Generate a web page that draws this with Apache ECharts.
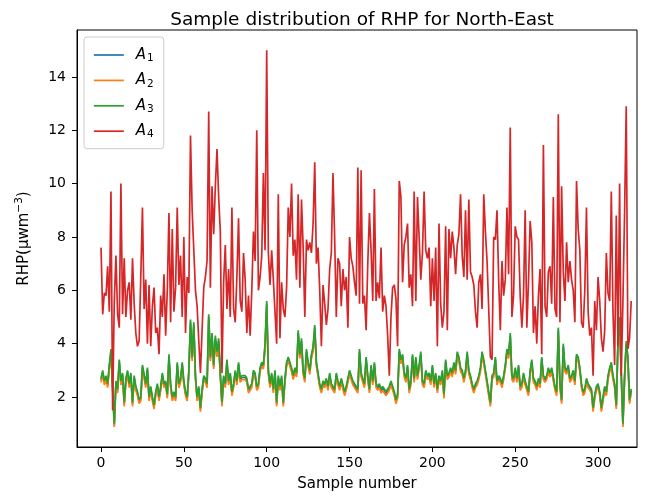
<!DOCTYPE html>
<html><head><meta charset="utf-8">
<script src="https://cdn.jsdelivr.net/npm/echarts@6/dist/echarts.min.js"></script>
<style>html,body{margin:0;padding:0;background:#fff}#c{width:650px;height:499px}</style>
</head><body><div id="c"></div>
<script>
const titleText = "Sample distribution of RHP for North-East";
const xTicks = [0,50,100,150,200,250,300];
const yTicks = [2,4,6,8,10,12,14];
const seriesNames = ["1","2","3","4"];

const A1 = [2.63,2.93,2.53,2.73,2.43,3.13,3.72,2.33,0.94,2.53,
2.23,3.33,2.53,2.83,1.73,2.63,2.93,2.43,2.83,1.73,
2.73,2.33,2.13,1.83,1.93,3.13,3.13,2.43,3.03,1.93,
2.33,1.93,1.63,2.13,2.43,1.93,2.33,2.83,2.43,2.53,
2.03,3.5,2.43,1.93,2.13,1.93,3.23,2.43,2.63,3.23,
2.53,2.13,1.93,2.93,4.8,3.43,4.7,2.73,1.93,2.33,
1.53,2.23,2.73,2.63,2.43,5.0,3.43,4.3,3.13,4.2,
3.6,4.1,2.83,1.73,2.73,2.43,3.33,2.53,2.83,2.13,
2.43,2.93,2.53,3.23,2.63,2.73,2.73,2.73,2.63,2.23,
2.23,2.43,2.93,2.83,2.33,2.43,3.03,3.23,3.13,3.9,
5.48,2.93,2.43,2.83,2.23,2.93,1.73,2.73,2.33,2.73,
1.73,2.63,3.23,3.43,3.23,3.03,2.73,3.03,2.83,4.4,
3.53,4.1,2.93,2.63,3.7,3.23,2.93,3.53,3.8,4.6,
3.23,2.83,2.43,2.23,2.53,2.43,2.63,2.33,2.83,2.43,
2.43,2.23,2.83,2.53,2.33,2.63,2.63,2.13,2.33,2.63,
2.93,2.73,2.53,2.43,2.43,2.23,3.7,2.83,2.83,2.43,
3.43,2.73,2.23,3.13,2.53,3.23,2.43,2.33,2.43,2.23,
2.33,2.23,2.13,2.23,2.33,2.53,2.33,2.13,1.83,2.03,
3.7,3.33,3.53,2.83,2.63,3.13,2.23,2.53,3.53,2.63,
3.43,2.73,3.13,3.6,2.53,2.43,2.93,2.73,2.83,2.53,
3.13,2.43,2.83,2.23,2.73,2.53,2.93,2.03,3.33,2.73,
2.83,3.03,2.83,3.23,2.93,3.6,3.43,3.03,2.93,2.63,
2.93,3.6,2.93,2.73,2.43,2.23,2.43,2.53,2.73,3.03,
3.6,3.33,2.93,2.53,2.13,1.73,2.73,2.83,3.43,2.53,
2.73,2.63,2.43,2.73,3.13,3.7,3.53,4.3,2.73,2.63,
3.03,2.63,3.13,2.33,2.43,2.83,2.53,2.33,2.13,2.93,
3.33,2.63,2.53,2.33,2.63,2.43,3.43,2.73,2.63,2.73,
3.03,2.83,3.03,3.03,2.33,2.13,4.5,2.43,1.83,3.9,
3.03,2.93,3.13,2.63,2.73,2.93,2.53,3.53,3.43,3.03,
2.43,2.13,2.23,2.63,2.43,2.33,2.23,1.53,2.03,2.33,
2.43,2.13,1.53,1.93,2.33,2.13,2.73,3.03,3.23,2.73,
2.43,1.63,4.0,4.9,2.83,0.94,2.73,4.0,3.43,1.83,2.23];

const A2 = [2.55,2.85,2.45,2.65,2.35,3.05,3.6,2.25,0.88,2.45,
2.15,3.25,2.45,2.75,1.65,2.55,2.85,2.35,2.75,1.65,
2.65,2.25,2.05,1.75,1.85,3.05,3.05,2.35,2.95,1.85,
2.25,1.85,1.55,2.05,2.35,1.85,2.25,2.75,2.35,2.45,
1.95,3.4,2.35,1.85,2.05,1.85,3.15,2.35,2.55,3.15,
2.45,2.05,1.85,2.85,4.7,3.35,4.6,2.65,1.85,2.25,
1.45,2.15,2.65,2.55,2.35,4.9,3.35,4.2,3.05,4.1,
3.5,4.0,2.75,1.65,2.65,2.35,3.25,2.45,2.75,2.05,
2.35,2.85,2.45,3.15,2.55,2.65,2.65,2.65,2.55,2.15,
2.15,2.35,2.85,2.75,2.25,2.35,2.95,3.15,3.05,3.8,
5.35,2.85,2.35,2.75,2.15,2.85,1.65,2.65,2.25,2.65,
1.65,2.55,3.15,3.35,3.15,2.95,2.65,2.95,2.75,4.3,
3.45,4.0,2.85,2.55,3.6,3.15,2.85,3.45,3.7,4.5,
3.15,2.75,2.35,2.15,2.45,2.35,2.55,2.25,2.75,2.35,
2.35,2.15,2.75,2.45,2.25,2.55,2.55,2.05,2.25,2.55,
2.85,2.65,2.45,2.35,2.35,2.15,3.6,2.75,2.75,2.35,
3.35,2.65,2.15,3.05,2.45,3.15,2.35,2.25,2.35,2.15,
2.25,2.15,2.05,2.15,2.25,2.45,2.25,2.05,1.75,1.95,
3.6,3.25,3.45,2.75,2.55,3.05,2.15,2.45,3.45,2.55,
3.35,2.65,3.05,3.5,2.45,2.35,2.85,2.65,2.75,2.45,
3.05,2.35,2.75,2.15,2.65,2.45,2.85,1.95,3.25,2.65,
2.75,2.95,2.75,3.15,2.85,3.5,3.35,2.95,2.85,2.55,
2.85,3.5,2.85,2.65,2.35,2.15,2.35,2.45,2.65,2.95,
3.5,3.25,2.85,2.45,2.05,1.65,2.65,2.75,3.35,2.45,
2.65,2.55,2.35,2.65,3.05,3.6,3.45,4.2,2.65,2.55,
2.95,2.55,3.05,2.25,2.35,2.75,2.45,2.25,2.05,2.85,
3.25,2.55,2.45,2.25,2.55,2.35,3.35,2.65,2.55,2.65,
2.95,2.75,2.95,2.95,2.25,2.05,4.4,2.35,1.75,3.8,
2.95,2.85,3.05,2.55,2.65,2.85,2.45,3.45,3.35,2.95,
2.35,2.05,2.15,2.55,2.35,2.25,2.15,1.45,1.95,2.25,
2.35,2.05,1.45,1.85,2.25,2.05,2.65,2.95,3.15,2.65,
2.35,1.55,3.9,4.8,2.75,0.88,2.65,3.9,3.35,1.75,2.15];

const A3 = [2.7,3.0,2.6,2.8,2.5,3.2,3.8,2.4,1.0,2.6,
2.3,3.4,2.6,2.9,1.8,2.7,3.0,2.5,2.9,1.8,
2.8,2.4,2.2,1.9,2.0,3.2,3.2,2.5,3.1,2.0,
2.4,2.0,1.7,2.2,2.5,2.0,2.4,2.9,2.5,2.6,
2.1,3.6,2.5,2.0,2.2,2.0,3.3,2.5,2.7,3.3,
2.6,2.2,2.0,3.0,4.9,3.5,4.8,2.8,2.0,2.4,
1.6,2.3,2.8,2.7,2.5,5.1,3.5,4.4,3.2,4.3,
3.7,4.2,2.9,1.8,2.8,2.5,3.4,2.6,2.9,2.2,
2.5,3.0,2.6,3.3,2.7,2.8,2.8,2.8,2.7,2.3,
2.3,2.5,3.0,2.9,2.4,2.5,3.1,3.3,3.2,4.0,
5.6,3.0,2.5,2.9,2.3,3.0,1.8,2.8,2.4,2.8,
1.8,2.7,3.3,3.5,3.3,3.1,2.8,3.1,2.9,4.5,
3.6,4.2,3.0,2.7,3.8,3.3,3.0,3.6,3.9,4.7,
3.3,2.9,2.5,2.3,2.6,2.5,2.7,2.4,2.9,2.5,
2.5,2.3,2.9,2.6,2.4,2.7,2.7,2.2,2.4,2.7,
3.0,2.8,2.6,2.5,2.5,2.3,3.8,2.9,2.9,2.5,
3.5,2.8,2.3,3.2,2.6,3.3,2.5,2.4,2.5,2.3,
2.4,2.3,2.2,2.3,2.4,2.6,2.4,2.2,1.9,2.1,
3.8,3.4,3.6,2.9,2.7,3.2,2.3,2.6,3.6,2.7,
3.5,2.8,3.2,3.7,2.6,2.5,3.0,2.8,2.9,2.6,
3.2,2.5,2.9,2.3,2.8,2.6,3.0,2.1,3.4,2.8,
2.9,3.1,2.9,3.3,3.0,3.7,3.5,3.1,3.0,2.7,
3.0,3.7,3.0,2.8,2.5,2.3,2.5,2.6,2.8,3.1,
3.7,3.4,3.0,2.6,2.2,1.8,2.8,2.9,3.5,2.6,
2.8,2.7,2.5,2.8,3.2,3.8,3.6,4.4,2.8,2.7,
3.1,2.7,3.2,2.4,2.5,2.9,2.6,2.4,2.2,3.0,
3.4,2.7,2.6,2.4,2.7,2.5,3.5,2.8,2.7,2.8,
3.1,2.9,3.1,3.1,2.4,2.2,4.6,2.5,1.9,4.0,
3.1,3.0,3.2,2.7,2.8,3.0,2.6,3.6,3.5,3.1,
2.5,2.2,2.3,2.7,2.5,2.4,2.3,1.6,2.1,2.4,
2.5,2.2,1.6,2.0,2.4,2.2,2.8,3.1,3.3,2.8,
2.5,1.7,4.1,5.0,2.9,1.0,2.8,4.1,3.5,1.9,2.3];

const A4 = [7.6,5.1,5.9,5.8,6.9,5.2,9.7,1.5,5.6,7.3,
5.1,4.6,10.0,5.1,7.2,5.0,6.0,6.3,4.9,7.2,
5.5,4.4,3.9,4.1,6.5,9.1,5.3,6.4,4.0,6.2,
3.9,5.4,6.1,4.4,4.6,3.6,5.8,5.0,6.6,4.3,
6.0,8.9,4.8,8.3,5.2,6.1,9.1,6.2,7.3,5.0,
8.0,4.4,6.5,5.9,11.8,9.0,9.0,6.0,5.4,4.1,
2.9,4.5,6.1,6.5,7.1,12.7,6.1,9.9,8.1,9.9,
11.3,9.5,8.2,2.9,6.3,7.7,5.3,6.8,5.0,9.1,
5.3,4.8,6.5,8.7,5.6,5.2,7.4,6.4,4.4,5.8,
4.3,6.0,8.2,7.1,12.0,6.0,6.5,7.3,10.4,7.5,
15.0,7.4,6.2,7.5,6.4,5.2,4.0,9.6,4.2,6.3,
5.3,5.0,6.1,9.1,8.0,10.0,7.3,7.9,6.4,9.6,
6.1,9.4,7.6,5.0,7.9,7.5,7.8,7.4,8.5,10.8,
7.0,7.6,6.0,3.9,6.2,5.5,4.7,5.3,6.8,7.4,
10.4,8.0,5.0,7.2,7.0,5.4,6.8,6.0,6.5,4.6,
8.0,7.2,6.9,6.3,5.8,10.6,5.5,10.5,5.5,5.8,
4.5,7.0,8.9,7.5,5.6,9.8,5.6,6.3,5.7,7.6,
5.2,5.8,5.4,4.3,2.8,5.0,6.1,6.2,5.7,3.9,
10.1,9.5,6.3,7.7,8.0,8.5,6.1,6.6,5.4,9.7,
5.6,9.5,8.0,6.4,7.4,9.7,7.5,7.2,7.6,5.4,
7.2,5.6,7.6,3.9,8.5,5.5,4.6,5.2,8.4,4.5,
8.3,7.2,8.2,7.6,6.6,7.7,8.1,9.6,7.3,6.5,
9.0,6.4,9.4,6.7,6.5,6.2,5.2,4.6,6.3,6.6,
5.3,9.6,8.2,7.1,5.3,3.5,3.4,8.0,7.9,9.0,
6.4,4.5,7.1,5.8,6.4,9.1,6.6,12.1,5.0,5.8,
8.4,8.0,7.9,5.8,4.6,5.8,9.0,4.6,6.3,8.6,
7.8,4.4,5.4,4.0,5.8,6.8,3.6,11.45,5.4,5.0,
6.7,6.9,5.5,9.5,5.3,5.0,12.6,4.8,9.9,6.7,
5.6,7.8,6.3,7.1,6.4,6.0,4.8,10.1,8.3,7.5,
4.8,4.6,6.0,9.1,5.2,4.3,4.6,2.8,5.6,4.5,
6.5,5.6,4.2,3.7,4.5,7.4,5.9,5.6,9.7,5.2,
3.2,8.8,3.9,10.0,2.8,5.6,8.9,12.9,3.8,4.2,5.6];

const allSeries = [A1, A2, A3, A4];
const colors = ['#1f77b4','#ff7f0e','#2ca02c','#d62728'];
const FONT = 'DejaVu Sans';

const chart = echarts.init(document.getElementById('c'), null, {renderer:'canvas'});
chart.setOption({
  animation: false,
  backgroundColor: '#fff',
  textStyle: {fontFamily: FONT, color: '#000'},
  title: {
    text: titleText, left: 357, top: 6, textAlign: 'center',
    textStyle: {fontFamily: FONT, fontSize: 18.5, fontWeight: 'normal', color: '#000'}
  },
  legend: {
    orient: 'vertical', left: 84, top: 37,
    itemWidth: 30, itemHeight: 14, itemGap: 8.9,
    padding: [10.5, 10, 8.5, 9],
    borderColor: '#cccccc', borderWidth: 1, borderRadius: 3,
    backgroundColor: 'rgba(255,255,255,0.8)',
    itemStyle: {opacity: 0},
    lineStyle: {width: 1.7},
    data: seriesNames.map(n => 'A' + n),
    formatter: name => '{i|A}{s|' + name.slice(1) + '}',
    textStyle: {
      fontFamily: FONT, color: '#000',
      rich: {
        i: {fontFamily: FONT, fontStyle: 'italic', fontSize: 15, color: '#000', padding: [0,0,0,7]},
        s: {fontFamily: FONT, fontSize: 10.5, color: '#000', padding: [7,0,0,1]}
      }
    }
  },
  grid: {left: 77, right: 13, top: 30, bottom: 52, show: true, borderColor: '#000', borderWidth: 1, containLabel: false},
  xAxis: {
    type: 'value', min: -14.5, max: 323.5,
    name: 'Sample number', nameLocation: 'middle', nameGap: 30,
    nameTextStyle: {fontFamily: FONT, fontSize: 15, color: '#000'},
    axisLine: {show: true, onZero: false, lineStyle: {color: '#000', width: 1}},
    axisTick: {show: true, inside: false, length: 5, lineStyle: {color: '#000'}, customValues: xTicks},
    axisLabel: {color: '#000', fontFamily: FONT, fontSize: 14, margin: 9, customValues: xTicks},
    splitLine: {show: false}
  },
  yAxis: {
    type: 'value', min: 0.125, max: 15.76,
    name: 'RHP(μwm{sup|−3})', nameLocation: 'middle', nameGap: 43, nameRotate: 90,
    nameTextStyle: {fontFamily: FONT, fontSize: 15, color: '#000',
      rich: {sup: {fontFamily: FONT, fontSize: 10.5, color: '#000', padding: [0,0,9,0]}}},
    axisLine: {show: true, onZero: false, lineStyle: {color: '#000', width: 1}},
    axisTick: {show: true, inside: false, length: 5, lineStyle: {color: '#000'}, customValues: yTicks},
    axisLabel: {color: '#000', fontFamily: FONT, fontSize: 14, margin: 11, customValues: yTicks},
    splitLine: {show: false}
  },
  series: allSeries.map((arr, k) => ({
    name: 'A' + seriesNames[k], type: 'line', symbol: 'none', showSymbol: false,
    data: arr.map((v, i) => [i, v]),
    lineStyle: {color: colors[k], width: 1.7}, itemStyle: {color: colors[k]},
    z: 2 + k
  }))
});
</script></body></html>
